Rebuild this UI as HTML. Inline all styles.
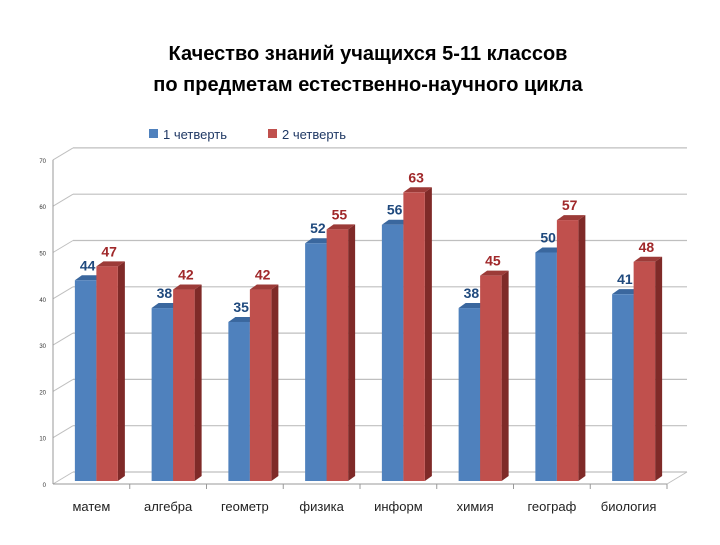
<!DOCTYPE html>
<html><head><meta charset="utf-8"><style>
body{margin:0;background:#fff;width:720px;height:540px;overflow:hidden;font-family:"Liberation Sans","DejaVu Sans",sans-serif}
</style></head><body>
<svg width="720" height="540" xmlns="http://www.w3.org/2000/svg">
<text x="368" y="60" text-anchor="middle" font-size="20" font-weight="bold" fill="#000">Качество знаний учащихся 5-11 классов</text>
<text x="368" y="91" text-anchor="middle" font-size="20" font-weight="bold" fill="#000">по предметам естественно-научного  цикла</text>
<g>
<rect x="149" y="129" width="9" height="9" fill="#4f81bd"/>
<text x="163" y="139" font-size="13" fill="#1f3864">1 четверть</text>
<rect x="268" y="129" width="9" height="9" fill="#c0504d"/>
<text x="282" y="139" font-size="13" fill="#1f3864">2 четверть</text>
</g>
<g id="axes"></g>
<g id="bars"></g>
<g id="labels"></g>
</svg>
<script>
const categories=["матем","алгебра","геометр","физика","информ","химия","географ","биология"];
const q1=[44,38,35,52,56,38,50,41];
const q2=[47,42,42,55,63,45,57,48];
const ticks=[0,10,20,30,40,50,60,70];
const NS="http://www.w3.org/2000/svg";
const x0=53,x1=667,y0=484,unit=4.63,dx=20,dy=-12;
function yv(v){return y0-v*unit;}
function mk(tag,attrs,parent){const e=document.createElementNS(NS,tag);for(const k in attrs)e.setAttribute(k,attrs[k]);parent.appendChild(e);return e;}
const ax=document.getElementById('axes'),bg=document.getElementById('bars'),lg=document.getElementById('labels');
ticks.forEach(t=>{
 const y=yv(t);
 const g=mk('line',{x1:x0+dx,y1:y+dy,x2:x1+dx,y2:y+dy,stroke:'#bfbfbf','stroke-width':1.2},ax);
 
 
 const d=mk('line',{x1:x0,y1:y,x2:x0+dx,y2:y+dy,stroke:'#bfbfbf','stroke-width':1},ax);
 
 
 const tl=mk('text',{x:x0-7,y:y+3,'text-anchor':'end','font-size':6,fill:'#333'},ax);
 tl.textContent=t;
 
 
});
const ya=mk('line',{x1:x0,y1:yv(70),x2:x0,y2:y0,stroke:'#999'},ax);


const xa=mk('line',{x1:x0,y1:y0,x2:x1,y2:y0,stroke:'#999'},ax);


const fl=mk('line',{x1:x1,y1:y0,x2:x1+dx,y2:y0+dy,stroke:'#bfbfbf'},ax);


const cw=(x1-x0)/categories.length;
const bw=21.5,sd=7,td=5,base=y0-3;
function bar(x,v,front,side,top,name,lc){
 const yt=yv(v);
 const s=mk('polygon',{points:`${x+bw},${yt} ${x+bw+sd},${yt-td} ${x+bw+sd},${base-td} ${x+bw},${base}`,fill:side},bg);
 
 
 const t=mk('polygon',{points:`${x},${yt} ${x+sd},${yt-td} ${x+bw+sd},${yt-td} ${x+bw},${yt}`,fill:top},bg);
 
 
 const r=mk('rect',{x:x,y:yt,width:bw,height:base-yt,fill:front},bg);
 
 
 const l=mk('text',{x:x+bw/2+2,y:yt-10,'text-anchor':'middle','font-size':14,'font-weight':'bold',fill:lc},lg);
 l.textContent=v;
 
 
}
categories.forEach((c,i)=>{
 const cx=x0+cw*(i+0.5)+5;
 bar(cx-bw,q1[i],'#4f81bd','#2c4d75','#3a679e','bar-q1-'+c,'#1f497d');
 bar(cx,q2[i],'#c0504d','#7f2a28','#9c3b38','bar-q2-'+c,'#a0282a');
 const tk=mk('line',{x1:x0+cw*(i+1),y1:y0,x2:x0+cw*(i+1),y2:y0+5,stroke:'#999'},ax);
 
 
 const t=mk('text',{x:x0+cw*(i+0.5),y:511,'text-anchor':'middle','font-size':13,fill:'#222'},lg);
 t.textContent=c;
 
 
});
</script>
</body></html>
